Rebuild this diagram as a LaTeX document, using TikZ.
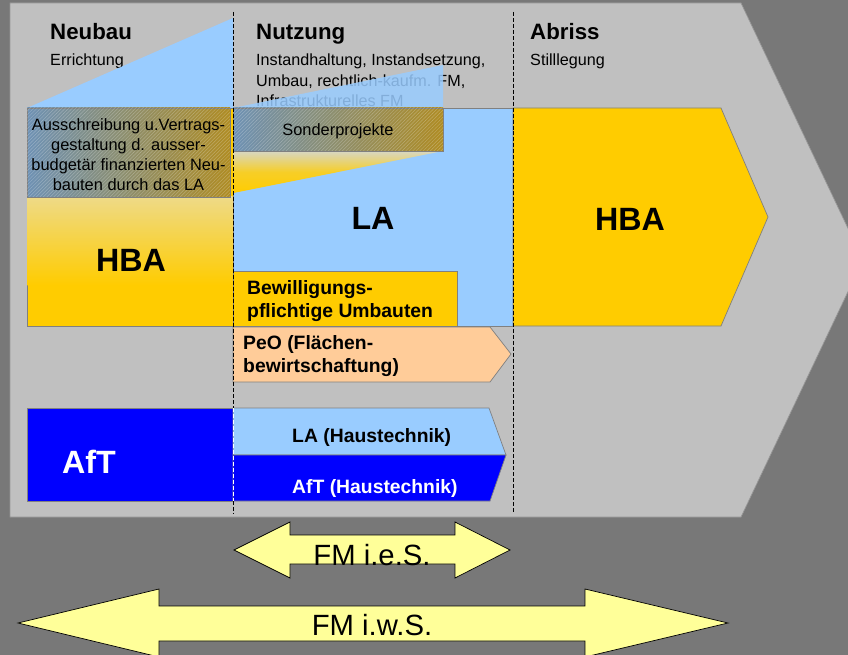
\documentclass[tikz,border=0pt]{standalone}
\usepackage{fontspec}
\setmainfont{Liberation Sans}
\usetikzlibrary{positioning}
\usetikzlibrary{patterns}
\definecolor{bggray}{RGB}{120,120,120}
\definecolor{panelgray}{RGB}{192,192,192}
\definecolor{paneledge}{RGB}{150,150,150}
\definecolor{edgegray}{RGB}{128,128,128}
\definecolor{hbayellow}{RGB}{255,204,0}
\definecolor{lablue}{RGB}{153,204,255}
\definecolor{peopeach}{RGB}{255,204,153}
\definecolor{aftblue}{RGB}{0,0,255}
\definecolor{fmyellow}{RGB}{255,255,153}
\definecolor{hatchleft}{RGB}{110,145,180}
\definecolor{hatchright}{RGB}{175,140,35}
\definecolor{palemix}{RGB}{238,218,135}
\definecolor{palewedge}{RGB}{215,215,195}

\begin{document}
\begin{tikzpicture}[x=0.03cm,y=-0.03cm,
		blk/.style={draw=edgegray,line width=.6pt},
		hatchbox/.style={blk,left color=hatchleft,right color=hatchright},
		hatching/.style={pattern=north east lines,pattern color=white,opacity=.25},
		phase/.style={inner sep=0,anchor=base west,font=\fontsize{19}{22}\selectfont\bfseries},
		phasetxt/.style={inner sep=0,anchor=base west,align=left,font=\fontsize{13.8}{17.4}\selectfont},
		big/.style={inner sep=0,anchor=base,font=\fontsize{27.5}{30}\selectfont\bfseries},
		mid/.style={inner sep=0,anchor=west,align=left,font=\fontsize{16.5}{19.6}\selectfont\bfseries},
		small/.style={inner sep=0,align=center,font=\fontsize{14}{17}\selectfont},
		divider/.style={black,line width=.6pt,dash pattern=on 3.4pt off 1.7pt},
		fmarrow/.style={draw=black,line width=.6pt,fill=fmyellow},
		fmtxt/.style={inner sep=0,anchor=base,font=\fontsize{25}{28}\selectfont}]
	\useasboundingbox (0,0) rectangle (848,655);
	\clip (0,0) rectangle (848,655);
	\fill[bggray] (0,0) rectangle (848,655);
	\draw[fill=panelgray,draw=paneledge,line width=.6pt] (10,3) -- (741,3) -- (863,260) -- (741,517) -- (10,517) -- cycle;

	\node (neubau) [phase] at (50,40) {Neubau};
	\node (errichtung) [phasetxt] at (50,66) {Errichtung};
	\node (nutzung) [phase] at (256,40) {Nutzung};
	\node (nutzungtxt) [phasetxt,anchor=west] at (256,80.5) {Instandhaltung, Instandsetzung,\\Umbau, rechtlich-kaufm. FM,\\Infrastrukturelles FM};
	\node (abriss) [phase] at (530,40) {Abriss};
	\node (stilllegung) [phasetxt] at (530,66) {Stilllegung};

	\draw[blk,fill=hbayellow] (27,108) rectangle (233,326);
	\shade[top color=palemix,bottom color=hbayellow] (27.5,197) rectangle (232.5,285);
	\fill[lablue] (27,108) -- (233,18) -- (233,108) -- cycle;
	\draw[hatchbox] (27,108) rectangle (230,197);
	\fill[hatching] (27,108) rectangle (230,197);
	\node (ausschreibung) [small] at (128.5,155) {Ausschreibung u.Vertrags-\\gestaltung d. ausser-\\budgetär finanzierten Neu-\\bauten durch das LA};
	\node (hbaneubau) [big] at (131,271) {HBA};

	\draw[blk,fill=lablue] (233,108) rectangle (513,326);
	\shade[top color=palewedge,bottom color=hbayellow,middle color=hbayellow!80!palewedge] (233.5,151) -- (443,151) -- (233.5,193) -- cycle;
	\fill[lablue,opacity=.85] (233,108) -- (443,65) -- (443,108) -- cycle;
	\draw[hatchbox] (233,108) rectangle (443,151);
	\fill[hatching] (233,108) rectangle (443,151);
	\node (sonder) [small,anchor=base] at (338,136) {Sonderprojekte};
	\node (la) [big] at (373,230) {LA};
	\draw[blk,fill=hbayellow] (233,271) rectangle (457,326);
	\node (bewilligung) [mid] at (247,301.5) {Bewilligungs-\\pflichtige Umbauten};

	\draw[blk,fill=hbayellow] (513,108) -- (721,108) -- (768,217) -- (721,326) -- (513,326) -- cycle;
	\node (hbaabriss) [big] at (630,231) {HBA};

	\draw[blk,fill=peopeach] (233,327) -- (490,327) -- (511,354) -- (490,382) -- (233,382) -- cycle;
	\node (peo) [mid] at (243,356) {PeO (Flächen-\\bewirtschaftung)};

	\draw[blk,fill=aftblue] (27,408) rectangle (233,501);
	\node (aft) [big,anchor=base west,white] at (62,473) {AfT};
	\draw[blk,fill=lablue] (233,408) -- (489,408) -- (506,455) -- (233,455) -- cycle;
	\draw[blk,fill=aftblue] (233,455) -- (506,455) -- (490,501) -- (233,501) -- cycle;
	\node (lahaus) [mid,anchor=base west] at (292,442) {LA (Haustechnik)};
	\node (afthaus) [mid,anchor=base west,white] at (292,493) {AfT (Haustechnik)};

	\coordinate (neutop) at (233,12);
	\coordinate (aftleft) at (233,408);
	\coordinate (aftright) at (233,501);
	\coordinate (neubot) at (233,513);
	\coordinate (abrtop) at (513,12);
	\coordinate (abrbot) at (513,513);
	\draw[divider] (neutop) -- (aftleft);
	\draw[divider,white] (aftleft) -- (aftright);
	\draw[divider] (aftright) -- (neubot);
	\draw[divider] (abrtop) -- (abrbot);

	\draw[fmarrow] (234,550) -- (290,522) -- (290,535) -- (455,535) -- (455,522) -- (510,550) -- (455,578) -- (455,564) -- (290,564) -- (290,578) -- cycle;
	\node (fmies) [fmtxt] at (372,565) {FM i.e.S.};
	\draw[fmarrow] (18,623) -- (159,589) -- (159,606) -- (585,606) -- (585,589) -- (728,623) -- (585,657) -- (585,641) -- (159,641) -- (159,657) -- cycle;
	\node (fmiws) [fmtxt] at (372,635) {FM i.w.S.};
\end{tikzpicture}
\end{document}
